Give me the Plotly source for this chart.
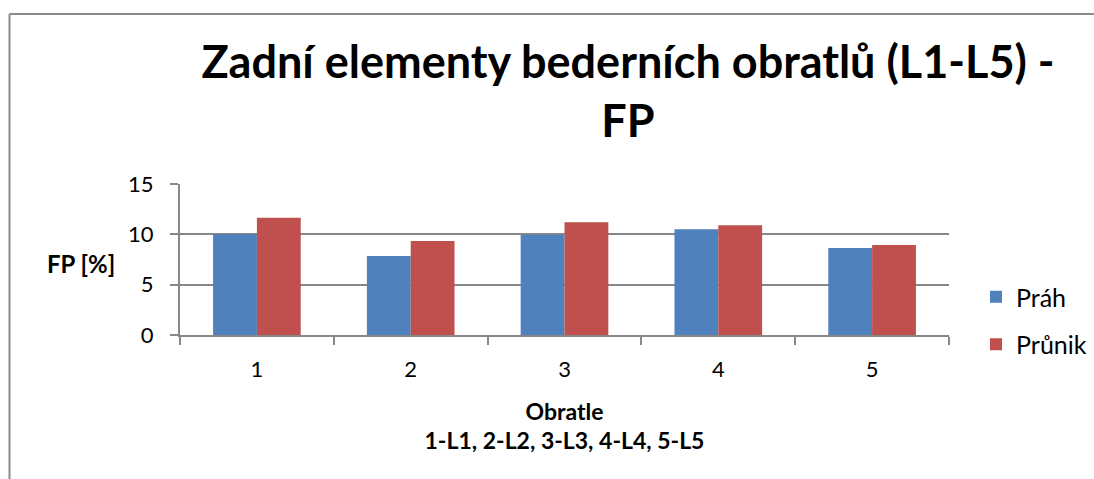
import plotly.graph_objects as go

# Vertebra categories and false-positive rates (%)
vertebrae = ["1", "2", "3", "4", "5"]
prah = [10.0, 7.85, 9.95, 10.5, 8.65]
prunik = [11.65, 9.35, 11.2, 10.9, 8.95]
y_ticks = [0, 5, 10, 15]

BLUE = "#4F81BD"
RED = "#C0504D"
GRID = "#878787"
FONT = "Lato"

W, H = 1094, 479
L, R, T, B = 180, 145, 184, 144
pw, ph = W - L - R, H - T - B


def px_x(x):
    return (x - L) / pw


def px_y(y):
    return (H - B - y) / ph


fig = go.Figure()
fig.add_trace(go.Bar(x=vertebrae, y=prah, name="Práh", marker_color=BLUE,
                     marker_line_width=0, legendgroup="a"))
fig.add_trace(go.Bar(x=vertebrae, y=prunik, name="Průnik", marker_color=RED,
                     marker_line_width=0, legendgroup="b"))

fig.update_layout(
    width=W, height=H,
    margin=dict(l=L, r=R, t=T, b=B, autoexpand=False),
    paper_bgcolor="white", plot_bgcolor="white",
    font=dict(family=FONT, color="black", size=22),
    barmode="group", bargap=0.43, bargroupgap=0,
    title=dict(
        text="Zadní elementy bederních obratlů (L1-L5) -<br>FP",
        font=dict(family=FONT, size=45, weight="bold", color="black"),
        x=px_x(628), xref="paper", xanchor="center",
        y=1 - 78 / H, yref="container", yanchor="top",
    ),
    legend=dict(
        x=976 / W, y=1 - 274 / H, xref="container", yref="container",
        xanchor="left", yanchor="top",
        font=dict(size=25, family=FONT), tracegroupgap=12,
        traceorder="grouped", bgcolor="rgba(0,0,0,0)",
    ),
    xaxis=dict(
        type="category", showline=True, linecolor=GRID, linewidth=2,
        ticks="outside", tickson="boundaries", ticklen=8, tickcolor=GRID,
        tickwidth=2, showgrid=False, tickfont=dict(size=22),
        ticklabelstandoff=14,
        title=dict(text="Obratle<br>1-L1, 2-L2, 3-L3, 4-L4, 5-L5",
                   font=dict(size=23, weight="bold"), standoff=22),
    ),
    yaxis=dict(
        range=[0, 15], tickvals=y_ticks, showline=True, linecolor=GRID,
        linewidth=2, ticks="outside", ticklen=8, tickcolor=GRID, tickwidth=2,
        showgrid=True, gridcolor=GRID, gridwidth=2, zeroline=False,
        tickfont=dict(size=22), ticklabelstandoff=12,
    ),
)

# Horizontal axis caption for the value axis
fig.add_annotation(text="<b>FP [%]</b>", xref="paper", yref="paper",
                   x=px_x(81), y=px_y(263), xanchor="center", yanchor="middle",
                   showarrow=False, font=dict(size=24, family=FONT))

# Chart-area frame (left and top edges)
fig.add_shape(type="line", xref="paper", yref="paper",
              x0=px_x(9.5), x1=px_x(9.5), y0=px_y(14), y1=px_y(490),
              line=dict(color="#8c8c8c", width=2))
fig.add_shape(type="line", xref="paper", yref="paper",
              x0=px_x(9.5), x1=px_x(1110), y0=px_y(14), y1=px_y(14),
              line=dict(color="#8c8c8c", width=2))

fig.write_html("out.html")
